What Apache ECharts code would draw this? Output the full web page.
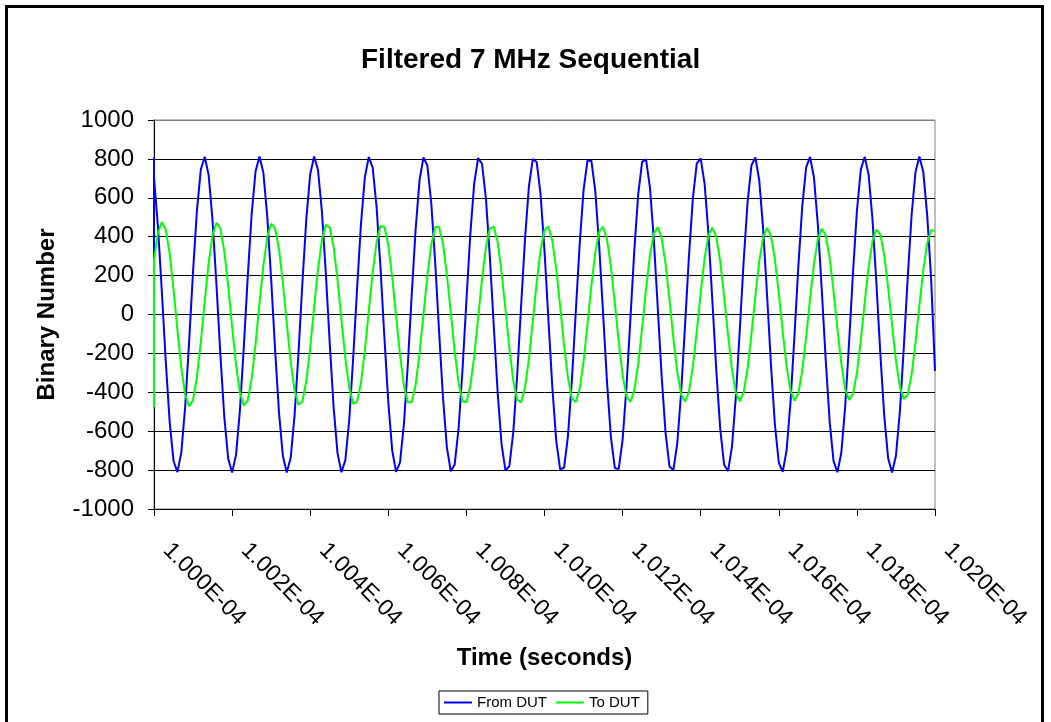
<!DOCTYPE html>
<html>
<head>
<meta charset="utf-8">
<title>Filtered 7 MHz Sequential</title>
<script src="https://cdn.jsdelivr.net/npm/echarts@6/dist/echarts.min.js"></script>
<style>
  html, body { margin: 0; padding: 0; background: #fff; }
  #chart { width: 1051px; height: 722px; }
</style>
</head>
<body>
<div id="chart"></div>
<script>
// sample times in ns after 1.000E-04 s (one sample every 10 ns)
// the first five samples come before the axis start
const sampleNs = [
  -50, -40, -30, -20, -10,
  0, 10, 20, 30, 40, 50, 60, 70, 80, 90, 100, 110, 120, 130, 140, 150, 160, 170, 180, 190,
  200, 210, 220, 230, 240, 250, 260, 270, 280, 290, 300, 310, 320, 330, 340, 350, 360, 370, 380, 390,
  400, 410, 420, 430, 440, 450, 460, 470, 480, 490, 500, 510, 520, 530, 540, 550, 560, 570, 580, 590,
  600, 610, 620, 630, 640, 650, 660, 670, 680, 690, 700, 710, 720, 730, 740, 750, 760, 770, 780, 790,
  800, 810, 820, 830, 840, 850, 860, 870, 880, 890, 900, 910, 920, 930, 940, 950, 960, 970, 980, 990,
  1000, 1010, 1020, 1030, 1040, 1050, 1060, 1070, 1080, 1090, 1100, 1110, 1120, 1130, 1140, 1150, 1160, 1170, 1180, 1190,
  1200, 1210, 1220, 1230, 1240, 1250, 1260, 1270, 1280, 1290, 1300, 1310, 1320, 1330, 1340, 1350, 1360, 1370, 1380, 1390,
  1400, 1410, 1420, 1430, 1440, 1450, 1460, 1470, 1480, 1490, 1500, 1510, 1520, 1530, 1540, 1550, 1560, 1570, 1580, 1590,
  1600, 1610, 1620, 1630, 1640, 1650, 1660, 1670, 1680, 1690, 1700, 1710, 1720, 1730, 1740, 1750, 1760, 1770, 1780, 1790,
  1800, 1810, 1820, 1830, 1840, 1850, 1860, 1870, 1880, 1890, 1900, 1910, 1920, 1930, 1940, 1950, 1960, 1970, 1980, 1990,
  2000
]

const fromDut = [
  -106, 252, 560, 759,
  809, 701, 456, 121, -237, -549, -753, -810, -709, -469, -137, 222, 537, 747,
  811, 716, 481, 152, -207, -526, -741, -812, -723, -493, -167, 192, 514, 735,
  812, 730, 505, 182, -177, -502, -728, -812, -737, -517, -197, 162, 490, 721,
  812, 743, 529, 212, -147, -477, -714, -811, -749, -541, -226, 132, 465, 707,
  810, 755, 552, 241, -117, -452, -699, -809, -760, -563, -256, 102, 439, 691,
  807, 766, 574, 270, -86, -426, -683, -806, -771, -585, -285, 71, 413, 674,
  804, 775, 596, 299, -56, -400, -666, -801, -780, -606, -313, 41, 386, 657,
  799, 784, 616, 327, -25, -373, -648, -796, -788, -626, -342, 10, 359, 638,
  792, 791, 635, 355, 6, -345, -629, -789, -795, -645, -369, -21, 331, 619,
  785, 798, 654, 383, 36, -317, -609, -781, -800, -663, -396, -52, 303, 598,
  777, 803, 672, 410, 67, -289, -588, -772, -805, -681, -423, -82, 274, 577,
  767, 807, 689, 436, 98, -260, -566, -762, -809, -697, -449, -113, 245, 555,
  756, 810, 705, 462, 128, -230, -544, -751, -811, -712, -474, -143, 216, 532,
  745, 811, 719, 487, 158, -201, -520, -739, -812, -726, -499, -173, 186, 509,
  732, 812, 733, 511, 188, -290
]

const toDut = [
  -477, -435, -308, -121,
  89, 282, 420, 475, 438, 315, 130, -80, -274, -414, -473, -440, -320, -138,
  71, 266, 408, 471, 442, 326, 146, -62, -257, -403, -469, -443, -331, -154,
  53, 249, 397, 467, 445, 337, 162, -44, -241, -391, -464, -447, -342, -170,
  35, 233, 385, 461, 448, 347, 178, -26, -224, -378, -459, -449, -351, -185,
  17, 216, 372, 455, 450, 356, 193, -8, -207, -366, -452, -450, -361, -200,
  -1, 199, 359, 449, 451, 365, 207, 9, -190, -352, -446, -451, -369, -214,
  -18, 182, 346, 442, 452, 373, 221, 27, -173, -339, -438, -452, -377, -229,
  -35, 165, 332, 434, 452, 380, 235, 44, -156, -325, -430, -451, -384, -242,
  -52, 147, 318, 426, 451, 387, 248, 60, -139, -311, -422, -450, -390, -254,
  -69, 130, 304, 417, 449, 393, 261, 77, -122, -296, -413, -448, -396, -267,
  -85, 113, 289, 408, 447, 399, 273, 93, -105, -282, -403, -446, -401, -279,
  -101, 96, 274, 398, 445, 404, 284, 109, -87, -267, -393, -443, -406, -289,
  -117, 79, 259, 388, 441, 408, 295, 124, -71, -251, -383, -439, -410, -300,
  -132, 62, 244, 377, 437, 411, 305, 139, -54, -236, -372, -435, -413, -310,
  -147, 45, 228, 366, 433, 430
]

// x tick labels, one every 200 ns
const timeLabels = [
  '1.000E-04', '1.002E-04', '1.004E-04', '1.006E-04', '1.008E-04', '1.010E-04',
  '1.012E-04', '1.014E-04', '1.016E-04', '1.018E-04', '1.020E-04'
]

const font = '"Liberation Sans", Arial, sans-serif'
const xStart = 0

// Excel puts the points that fall before the axis start on the left edge
function toPoints(values) {
  return values.map((v, i) => [Math.max(sampleNs[i], xStart), v])
}

const chart = echarts.init(document.getElementById('chart'))

chart.setOption({
  animation: false,
  backgroundColor: '#fff',
  textStyle: { fontFamily: font, color: '#000' },
  title: {
    text: 'Filtered 7 MHz Sequential',
    left: 361,
    top: 46,
    padding: 0,
    textStyle: { fontFamily: font, fontSize: 28, fontWeight: 'bold', color: '#000' }
  },
  grid: {
    left: 154,
    right: 116,
    top: 120,
    bottom: 213,
    show: true,
    borderColor: '#808080',
    borderWidth: 1,
    backgroundColor: 'transparent'
  },
  legend: {
    left: 439,
    top: 691,
    orient: 'horizontal',
    padding: [4, 8, 4, 5],
    itemGap: 9,
    itemWidth: 28,
    itemHeight: 2,
    icon: 'rect',
    borderColor: '#000',
    borderWidth: 1,
    textStyle: { fontFamily: font, fontSize: 15, color: '#000', lineHeight: 15 },
    data: ['From DUT', 'To DUT']
  },
  xAxis: {
    type: 'value',
    min: xStart,
    max: 2000,
    interval: 200,
    name: 'Time (seconds)',
    nameLocation: 'middle',
    nameGap: 137,
    nameTextStyle: { fontFamily: font, fontSize: 24, fontWeight: 'bold', color: '#000' },
    axisLine: { show: true, onZero: false, lineStyle: { color: '#000', width: 1 } },
    axisTick: { show: true, inside: false, length: 7, lineStyle: { color: '#000' } },
    axisLabel: {
      rotate: -45,
      margin: 25,
      padding: [0, 0, 0, 18],
      showMinLabel: true,
      showMaxLabel: true,
      fontFamily: font,
      fontSize: 23,
      color: '#000',
      formatter: (v) => timeLabels[Math.round((v - xStart) / 200)]
    },
    splitLine: { show: false }
  },
  yAxis: {
    type: 'value',
    min: -1000,
    max: 1000,
    interval: 200,
    name: 'Binary Number',
    nameLocation: 'middle',
    nameGap: 95,
    nameTextStyle: { fontFamily: font, fontSize: 24, fontWeight: 'bold', color: '#000' },
    axisLine: { show: true, lineStyle: { color: '#000', width: 1 } },
    axisTick: { show: true, inside: false, length: 6, lineStyle: { color: '#000' } },
    axisLabel: {
      margin: 20,
      fontFamily: font,
      fontSize: 24,
      color: '#000',
      formatter: (v) => String(v)
    },
    splitLine: {
      show: true,
      // top line is the grey plot border
      lineStyle: {
        color: ['#000', '#000', '#000', '#000', '#000', '#000', '#000', '#000', '#000', '#000', '#808080'],
        width: 1
      }
    }
  },
  graphic: [{
    type: 'rect',
    shape: { x: 6.5, y: 6.5, width: 1036, height: 730 },
    style: { fill: 'none', stroke: '#000', lineWidth: 3 },
    silent: true
  }],
  series: [
    {
      name: 'From DUT',
      type: 'line',
      symbol: 'none',
      data: toPoints(fromDut),
      lineStyle: { color: '#0000ff', width: 2 },
      itemStyle: { color: '#0000ff' }
    },
    {
      name: 'To DUT',
      type: 'line',
      symbol: 'none',
      data: toPoints(toDut),
      lineStyle: { color: '#00ff00', width: 2 },
      itemStyle: { color: '#00ff00' }
    }
  ]
})
</script>
</body>
</html>
